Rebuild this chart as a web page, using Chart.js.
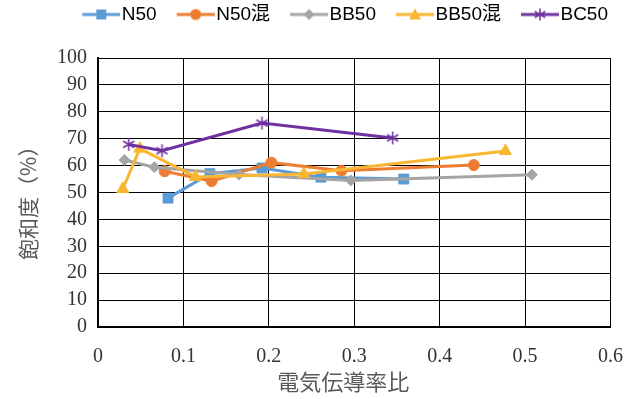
<!DOCTYPE html>
<html>
<head>
<meta charset="utf-8">
<script src="https://cdn.jsdelivr.net/npm/chart.js@4/dist/chart.umd.min.js"></script>
<style>
  body { margin: 0; background: #fff; }
  #wrap { width: 641px; height: 399px; }
</style>
</head>
<body>
<div id="wrap"><canvas id="chart" width="641" height="399"></canvas></div>
<script>
// 系列名
const seriesNames = ['N50', 'N50混', 'BB50', 'BB50混', 'BC50'];

// 電気伝導率比 (x) と 飽和度 % (y)
const n50X = [0.082, 0.131, 0.192, 0.261, 0.358];
const n50Y = [47.9, 57.0, 59.1, 55.7, 55.0];
const n50mX = [0.078, 0.133, 0.203, 0.285, 0.440];
const n50mY = [57.9, 54.2, 61.1, 58.1, 60.2];
const bb50X = [0.031, 0.066, 0.165, 0.296, 0.508];
const bb50Y = [62.1, 59.4, 56.7, 54.5, 56.6];
const bb50mX = [0.029, 0.049, 0.114, 0.241, 0.477];
const bb50mY = [51.3, 66.3, 55.8, 56.9, 65.4];
const bc50X = [0.036, 0.075, 0.192, 0.345];
const bc50Y = [67.9, 65.5, 75.8, 70.3];

// 軸目盛
const xTicks = [0, 0.1, 0.2, 0.3, 0.4, 0.5, 0.6];
const yTicks = [0, 10, 20, 30, 40, 50, 60, 70, 80, 90, 100];

const colors = ['#5B9BD5', '#ED7D31', '#A5A5A5', '#F9B632', '#7030A0'];
const markers = ['rect', 'circle', 'rectRot', 'triangle', 'star'];

const legendFont = "'Liberation Sans', 'Noto Sans CJK JP', sans-serif";

function toPoints(xs, ys) {
  return xs.map((x, i) => ({ x: x, y: ys[i] }));
}

// アスタリスク型マーカー (× + 縦線)
function makeStar(color, size) {
  const c = document.createElement('canvas');
  c.width = size; c.height = size;
  const g = c.getContext('2d');
  const m = size / 2, r = size / 2 - 1;
  g.strokeStyle = color;
  g.lineWidth = 1.5;
  g.beginPath();
  g.moveTo(m - r * 0.87, m - r * 0.5); g.lineTo(m + r * 0.87, m + r * 0.5);
  g.moveTo(m - r * 0.87, m + r * 0.5); g.lineTo(m + r * 0.87, m - r * 0.5);
  g.moveTo(m, m - r); g.lineTo(m, m + r);
  g.stroke();
  return c;
}

function drawMarker(g, style, x, y, color) {
  g.fillStyle = color;
  g.strokeStyle = color;
  g.beginPath();
  if (style === 'rect') {
    g.rect(x - 5, y - 5, 10, 10); g.fill();
  } else if (style === 'circle') {
    g.arc(x, y, 5.5, 0, Math.PI * 2); g.fill();
  } else if (style === 'rectRot') {
    g.moveTo(x - 5.5, y); g.lineTo(x, y - 5.5); g.lineTo(x + 5.5, y); g.lineTo(x, y + 5.5);
    g.closePath(); g.fill();
  } else if (style === 'triangle') {
    g.moveTo(x, y - 6); g.lineTo(x + 6, y + 5); g.lineTo(x - 6, y + 5);
    g.closePath(); g.fill();
  } else {
    g.drawImage(makeStar(color, 14), x - 7, y - 7);
  }
}

// 凡例用アイコン: 線 + マーカー (右寄せ、左側は透明)
function makeLegendIcon(style, color) {
  const c = document.createElement('canvas');
  c.width = 61; c.height = 16;
  const g = c.getContext('2d');
  g.strokeStyle = color;
  g.lineWidth = 3;
  g.beginPath();
  g.moveTo(23, 8); g.lineTo(61, 8);
  g.stroke();
  drawMarker(g, style, 42, 8, color);
  return c;
}

const allX = [n50X, n50mX, bb50X, bb50mX, bc50X];
const allY = [n50Y, n50mY, bb50Y, bb50mY, bc50Y];

let my_datasets = [];
for (let i = 0; i < seriesNames.length; i++) {
  const isStar = markers[i] === 'star';
  my_datasets[i] = {
    label: seriesNames[i],
    data: toPoints(allX[i], allY[i]),
    showLine: true,
    borderColor: colors[i],
    backgroundColor: colors[i],
    borderWidth: 3,
    pointStyle: isStar ? makeStar(colors[i], 15) : markers[i],
    pointRadius: markers[i] === 'rect' ? 7 : (markers[i] === 'triangle' ? 7 : 5.5),
    pointBorderWidth: 1,
    pointBorderColor: colors[i],
    pointBackgroundColor: colors[i],
    order: seriesNames.length - i
  };
}

const legendIcons = markers.map((m, i) => makeLegendIcon(m, colors[i]));

// 凡例の高さ固定
const legendHeight = {
  id: 'legendHeight',
  beforeInit(chart) {
    const fit = chart.legend.fit;
    chart.legend.fit = function () {
      fit.bind(chart.legend)();
      this.height = 58;
    };
  }
};

const myChart = new Chart(document.getElementById('chart').getContext('2d'), {
  type: 'scatter',
  data: { datasets: my_datasets },
  plugins: [legendHeight],
  options: {
    responsive: false,
    animation: false,
    layout: { padding: { left: 0, right: 28, top: 0, bottom: 0 } },
    plugins: {
      tooltip: { enabled: false },
      legend: {
        position: 'top',
        align: 'end',
        labels: {
          usePointStyle: true,
          pointStyleWidth: 45,
          padding: 5,
          color: '#595959',
          font: { family: legendFont, size: 19 },
          generateLabels: function (chart) {
            return seriesNames.map((name, i) => ({
              text: name,
              pointStyle: legendIcons[i],
              fillStyle: colors[i],
              strokeStyle: colors[i],
              lineWidth: 0,
              hidden: false,
              datasetIndex: i
            }));
          }
        }
      }
    },
    scales: {
      x: {
        type: 'linear',
        min: 0,
        max: 0.6,
        afterFit: function (scale) { scale.height = 72; },
        afterBuildTicks: function (scale) { scale.ticks = xTicks.map(v => ({ value: v })); },
        grid: { color: '#000', lineWidth: 1, drawTicks: false },
        border: { color: '#000', width: 2 },
        ticks: {
          autoSkip: false,
          maxRotation: 0,
          padding: 18,
          color: '#333',
          font: { family: "'Liberation Serif', serif", size: 20 },
          callback: function (v) { return v === 0 ? '0' : v.toFixed(1); }
        },
        title: {
          display: true,
          text: '電気伝導率比\u3000',
          color: '#595959',
          padding: { top: 0, bottom: 4 },
          font: { family: "'Noto Sans CJK JP', sans-serif", size: 22 }
        }
      },
      y: {
        min: 0,
        max: 100,
        afterFit: function (scale) { scale.width = 98; },
        afterBuildTicks: function (scale) { scale.ticks = yTicks.map(v => ({ value: v })); },
        grid: { color: '#000', lineWidth: 1, drawTicks: false },
        border: { color: '#000', width: 2 },
        ticks: {
          autoSkip: false,
          padding: 11,
          color: '#333',
          font: { family: "'Liberation Serif', serif", size: 20 }
        },
        title: {
          display: true,
          text: '飽和度（%）\u3000',
          color: '#595959',
          padding: { top: 15, bottom: 0 },
          font: { family: "'Noto Sans CJK JP', sans-serif", size: 21 }
        }
      }
    }
  }
});
</script>
</body>
</html>
